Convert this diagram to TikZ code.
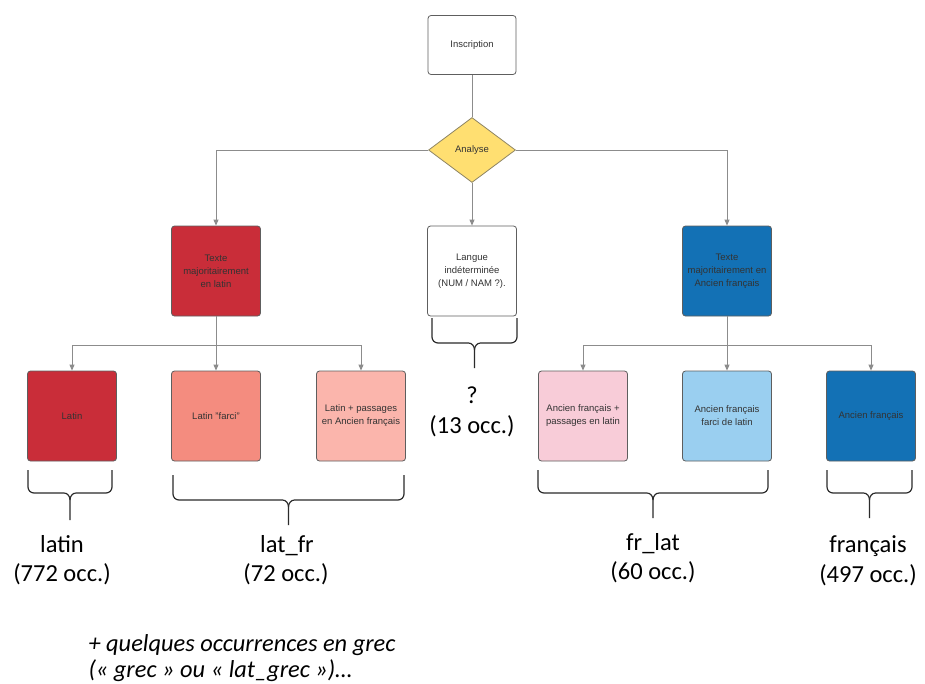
\documentclass[tikz,border=0pt]{standalone}
\usepackage{fontspec}
\setmainfont{Liberation Sans}
\newfontfamily\calib{Carlito}
\usetikzlibrary{shapes.geometric,arrows.meta}
\definecolor{redD}{HTML}{C92D39}
\definecolor{salmon}{HTML}{F48C7F}
\definecolor{salmonL}{HTML}{FBB5AC}
\definecolor{pinkL}{HTML}{F8CCD8}
\definecolor{blueL}{HTML}{9ACFF0}
\definecolor{blueD}{HTML}{1371B5}
\definecolor{yell}{HTML}{FFDF71}
\definecolor{lineg}{HTML}{8C8C8C}
\definecolor{boxl}{HTML}{5E5E5E}
\definecolor{txt}{HTML}{333333}
\definecolor{brcc}{HTML}{2B2B2B}
\newcommand\mybrace[5]{%
  \pgfmathsetmacro\bxc{(#1+#2)/2}%
  \draw[brc] (#1,#3) -- (#1,#4-6) to[out=-90,in=180] (#1+6,#4) -- (\bxc-6,#4) to[out=0,in=90] (\bxc,#4+7) -- (\bxc,#5);
  \draw[brc] (#2,#3) -- (#2,#4-6) to[out=-90,in=0] (#2-6,#4) -- (\bxc+6,#4) to[out=180,in=90] (\bxc,#4+7);
}
\begin{document}
\begin{tikzpicture}[x=1pt,y=-1pt,
  box/.style={draw=boxl, line width=0.8pt, rounded corners=3pt, minimum width=89pt, minimum height=90pt, inner sep=1pt, align=center, text=txt, font=\fontsize{9.5}{13}\selectfont},
  conn/.style={draw=lineg, line width=0.9pt},
  arr/.style={conn, -{Triangle[length=6pt,width=5pt]}},
  brc/.style={draw=brcc, line width=1.2pt},
  lab/.style={anchor=base, font=\calib\fontsize{24.5}{29}\selectfont, text=black},
  note/.style={anchor=base west, font=\calib\itshape\fontsize{24.4}{26}\selectfont, text=black}]
\useasboundingbox[fill=white] (0,0) rectangle (925,683);

\node[box, fill=white, minimum width=88pt, minimum height=59pt] (insc) at (472,45) {Inscription};
\node[draw=boxl!70!yell, line width=0.8pt, fill=yell, diamond, aspect=1.34, minimum width=87pt, minimum height=65pt, inner sep=0pt, text=txt, font=\fontsize{9.5}{12}\selectfont] (ana) at (472,150) {Analyse};

\node[box, fill=redD] (t1) at (216,271) {Texte\\majoritairement\\en latin};
\node[box, fill=white] (t2) at (472,271) {Langue\\indéterminée\\(NUM / NAM ?).};
\node[box, fill=blueD] (t3) at (727,271) {Texte\\majoritairement en\\Ancien français};

\node[box, fill=redD] (b1) at (72,416) {Latin};
\node[box, fill=salmon] (b2) at (216,416) {Latin "farci"};
\node[box, fill=salmonL] (b3) at (361,416) {Latin + passages\\en Ancien français};
\node[box, fill=pinkL] (b4) at (583,416) {Ancien français +\\passages en latin};
\node[box, fill=blueL] (b5) at (727,416) {Ancien français\\farci de latin};
\node[box, fill=blueD] (b6) at (871,416) {Ancien français};

\draw[conn] (insc) -- (ana);
\draw[arr] (ana.west) -| (t1.north);
\draw[arr] (ana.east) -| (t3.north);
\draw[arr] (ana.south) -- (t2.north);

\coordinate (j1) at (216,345);
\coordinate (j2) at (727,345);
\draw[arr] (t1.south) -- (b2.north);
\draw[arr] (j1) -| (b1.north);
\draw[arr] (j1) -| (b3.north);
\draw[arr] (t3.south) -- (b5.north);
\draw[arr] (j2) -| (b4.north);
\draw[arr] (j2) -| (b6.north);

\mybrace{28}{112}{470}{493}{520}
\mybrace{173}{404}{475}{500}{525}
\mybrace{432}{517}{318}{343}{368}
\mybrace{538}{768}{470}{493}{518}
\mybrace{827}{912}{470}{493}{518}

\node[lab] (l1) at (62,552) {latin};
\node[lab] (l1n) at (62,581) {(772 occ.)};
\node[lab] (l2) at (287,552) {lat\_fr};
\node[lab] (l2n) at (286,581) {(72 occ.)};
\node[lab] (l3) at (472,403) {?};
\node[lab] (l3n) at (472,433) {(13 occ.)};
\node[lab] (l4) at (653,550) {fr\_lat};
\node[lab] (l4n) at (653,579) {(60 occ.)};
\node[lab] (l5) at (868,552) {français};
\node[lab] (l5n) at (868,582) {(497 occ.)};

\node[note] (n1) at (85,651) {+ quelques occurrences en grec};
\node[note] (n2) at (85,677) {(« grec » ou « lat\_grec »)…};
\end{tikzpicture}
\end{document}
